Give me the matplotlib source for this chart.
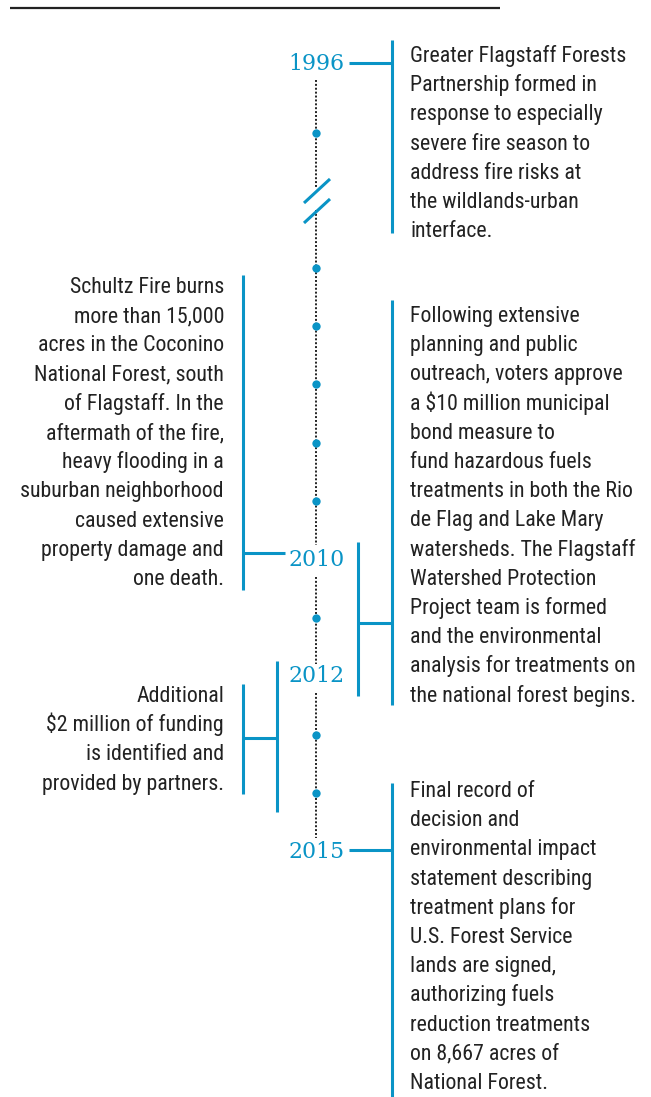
import matplotlib
matplotlib.use("Agg")
import matplotlib.pyplot as plt
from matplotlib import font_manager

# timeline data
label_years = [1996, 2010, 2012, 2015]
dot_years = [1997, 2005, 2006, 2007, 2008, 2009, 2011, 2013, 2014]

text_1996 = [
    "Greater Flagstaff Forests",
    "Partnership formed in",
    "response to especially",
    "severe fire season to",
    "address fire risks at",
    "the wildlands-urban",
    "interface.",
]
text_2010_fire = [
    "Schultz Fire burns",
    "more than 15,000",
    "acres in the Coconino",
    "National Forest, south",
    "of Flagstaff. In the",
    "aftermath of the fire,",
    "heavy flooding in a",
    "suburban neighborhood",
    "caused extensive",
    "property damage and",
    "one death.",
]
text_2010_bond = [
    "Following extensive",
    "planning and public",
    "outreach, voters approve",
    "a $10 million municipal",
    "bond measure to",
    "fund hazardous fuels",
    "treatments in both the Rio",
    "de Flag and Lake Mary",
    "watersheds. The Flagstaff",
    "Watershed Protection",
    "Project team is formed",
    "and the environmental",
    "analysis for treatments on",
    "the national forest begins.",
]
text_2012 = [
    "Additional",
    "$2 million of funding",
    "is identified and",
    "provided by partners.",
]
text_2015 = [
    "Final record of",
    "decision and",
    "environmental impact",
    "statement describing",
    "treatment plans for",
    "U.S. Forest Service",
    "lands are signed,",
    "authorizing fuels",
    "reduction treatments",
    "on 8,667 acres of",
    "National Forest.",
]

BLUE = "#0a94c6"
INK = "#222222"
W, H = 651, 1097
AXIS_X = 316
LINE_STEP = 29.2


def pick_body_font():
    # the original uses a condensed grotesque; take a condensed face if one is installed
    prefs = ["Roboto Condensed", "Liberation Sans Narrow", "Noto Sans", "Open Sans",
             "DejaVu Sans", "Lato", "Inter"]
    found = []
    for f in font_manager.fontManager.ttflist:
        fn = f.fname.lower()
        narrow = ("condensed" in fn or "narrow" in fn or f.stretch == "condensed")
        if not narrow or "semi" in fn or "extra" in fn or "ultra" in fn:
            continue
        if f.style != "normal" or f.weight not in (400, "normal", "regular"):
            continue
        rank = prefs.index(f.name) if f.name in prefs else len(prefs)
        found.append((rank, f.fname))
    if found:
        return font_manager.FontProperties(fname=sorted(found)[0][1])
    return font_manager.FontProperties(family="Roboto")


def year_y(year):
    # two pieces either side of the axis break
    if year < 2000:
        return 64 + (year - 1996) * 69
    return 559.5 + (year - 2010) * 58.4


def blue_line(ax, xs, ys):
    ax.plot(xs, ys, color=BLUE, lw=2.2, solid_capstyle="butt")


def text_block(ax, lines, x, first_baseline, ha):
    for i, line in enumerate(lines):
        ax.text(x, first_baseline + i * LINE_STEP, line, ha=ha, va="baseline",
                fontproperties=body_fp, fontsize=body_size, color=INK)


fig = plt.figure(figsize=(W / 100, H / 100), dpi=100)
ax = fig.add_axes([0, 0, 1, 1])
ax.set_xlim(0, W)
ax.set_ylim(H, 0)
ax.axis("off")

# size the body font so the first line spans the same width as in the original
body_fp = pick_body_font()
renderer = fig.canvas.get_renderer()
probe = ax.text(0, 0, text_1996[0], fontproperties=body_fp, fontsize=20)
probe_w = probe.get_window_extent(renderer).width
probe.remove()
body_size = min(16.5, 20 * 216 / probe_w)

# top rule
ax.plot([10, 500], [7.8, 7.8], color=INK, lw=1.6, solid_capstyle="butt")

# dotted axis, interrupted by the break and the year labels
for y0, y1 in [(80, 187), (210, 545), (577, 664), (693, 838)]:
    ax.plot([AXIS_X, AXIS_X], [y0, y1], color=INK, lw=1.4, linestyle=(0, (1, 1)))

# axis break slashes
blue_line(ax, [304, 330], [203, 179])
blue_line(ax, [304, 330], [223, 199])

# year dots
ax.plot([AXIS_X] * len(dot_years), [year_y(y) for y in dot_years], "o",
        color=BLUE, markersize=6, markeredgewidth=0, zorder=3)

# year labels
for yr in label_years:
    ax.text(AXIS_X + 0.5, year_y(yr), str(yr), ha="center", va="center",
            fontsize=15.8, family="DejaVu Serif", color=BLUE)

# 1996
blue_line(ax, [349, 392], [63, 63])
blue_line(ax, [392, 392], [40, 233])
text_block(ax, text_1996, 410, 62, "left")

# 2010 fire
blue_line(ax, [243, 285], [553, 553])
blue_line(ax, [243, 243], [275, 590])
text_block(ax, text_2010_fire, 224, 293, "right")

# 2010-2012 bond measure
blue_line(ax, [358, 358], [542, 696])
blue_line(ax, [358, 392], [623, 623])
blue_line(ax, [392, 392], [300, 705])
text_block(ax, text_2010_bond, 410, 322, "left")

# 2012 funding
blue_line(ax, [277, 277], [661, 812])
blue_line(ax, [243, 277], [738, 738])
blue_line(ax, [243, 243], [684, 794])
text_block(ax, text_2012, 224, 702, "right")

# 2015
blue_line(ax, [349, 392], [850, 850])
blue_line(ax, [392, 392], [783, 1097])
text_block(ax, text_2015, 410, 797, "left")

fig.savefig("out.png", dpi=100)
